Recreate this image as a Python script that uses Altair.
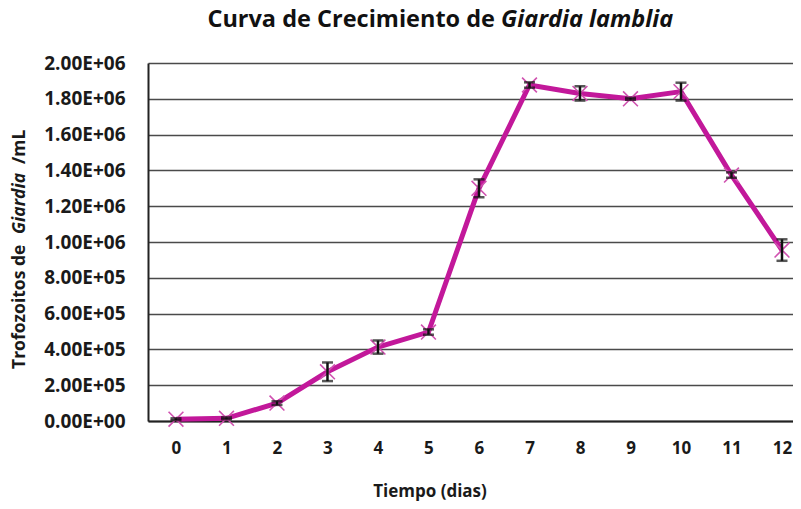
import altair as alt
import pandas as pd

days = [0, 1, 2, 3, 4, 5, 6, 7, 8, 9, 10, 11, 12]
trofozoitos = [10000, 15000, 100000, 275000, 413000, 497000, 1300000, 1877000, 1830000, 1800000, 1840000, 1374000, 955000]
errors = [5000, 5000, 10000, 52000, 37000, 15000, 50000, 15000, 40000, 5000, 50000, 15000, 60000]
y_ticks = [0, 200000, 400000, 600000, 800000, 1000000, 1200000, 1400000, 1600000, 1800000, 2000000]

df = pd.DataFrame({"day": days, "val": trofozoitos, "err": errors})
df["lo"] = df["val"] - df["err"]
df["hi"] = df["val"] + df["err"]

FONT = "Open Sans"
W, H = 645, 358

label_expr = ("datum.value == 0 ? '0.00E+00' : "
              "format(datum.value / pow(10, floor(log(datum.value) / LN10 + 1e-9)), '.2f') + 'E+' + "
              "(floor(log(datum.value) / LN10 + 1e-9) < 10 ? '0' : '') + floor(log(datum.value) / LN10 + 1e-9)")

x = alt.X("day:Q", scale=alt.Scale(domain=[-0.554, 12.218], nice=False, zero=False),
          axis=alt.Axis(values=days, title=None, grid=False, ticks=False, tickCount=20, format="d",
                        domainColor="#222222", domainWidth=2, labelFont=FONT, labelFontSize=17,
                        labelFontWeight="bold", labelColor="#1a1a1a", labelPadding=19,
                        labelFlush=False, labelOverlap=False))
y = alt.Y("val:Q", scale=alt.Scale(domain=[0, 2000000], nice=False),
          axis=alt.Axis(values=y_ticks, title=None, ticks=False, labelExpr=label_expr,
                        labelOverlap=False, tickCount=20,
                        domainColor="#222222", domainWidth=2, gridColor="#4a4a4a", gridWidth=1.6,
                        labelFont=FONT, labelFontSize=19, labelFontWeight="bold",
                        labelColor="#1a1a1a", labelPadding=23))

base = alt.Chart(df)
line = base.mark_line(color="#C2189A", strokeWidth=5).encode(x=x, y=y)
marks = base.mark_point(shape="M-1,-1L1,1M-1,1L1,-1", filled=False, color="#D052B0",
                        strokeWidth=1.6, size=220, opacity=1).encode(x="day:Q", y="val:Q")
stem = base.mark_rule(color="#111111", strokeWidth=2.5).encode(x="day:Q", y="lo:Q", y2="hi:Q")
cap_lo = base.mark_tick(color="#111111", orient="horizontal", size=11, thickness=2.5).encode(x="day:Q", y="lo:Q")
cap_hi = base.mark_tick(color="#111111", orient="horizontal", size=11, thickness=2.5).encode(x="day:Q", y="hi:Q")

tdf = pd.DataFrame({"t": [0]})
# Title with mixed styles
title1 = alt.Chart(tdf).mark_text(text="Curva de Crecimiento de", font=FONT, fontSize=23.5, fontWeight="bold",
                                  color="#111111", align="right", baseline="alphabetic").encode(
    x=alt.value(495 - 148), y=alt.value(27 - 63))
title2 = alt.Chart(tdf).mark_text(text="Giardia lamblia", font=FONT, fontSize=23.5, fontWeight="bold",
                                  fontStyle="italic", color="#111111", align="left", baseline="alphabetic").encode(
    x=alt.value(501 - 148), y=alt.value(27 - 63))

# X-axis title
xt = alt.Chart(tdf).mark_text(text="Tiempo (dias)", font=FONT, fontSize=17, fontWeight="bold",
                              color="#1a1a1a", align="center", baseline="middle").encode(
    x=alt.value(430 - 148), y=alt.value(492 - 63))

# Y-axis title with mixed styles (rotated)
yt1 = alt.Chart(tdf).mark_text(text="Trofozoitos de", font=FONT, fontSize=17.5, fontWeight="bold",
                               color="#1a1a1a", align="left", baseline="middle").encode(
    x=alt.value(20 - 148), y=alt.value(369 - 63), angle=alt.value(270))
yt2 = alt.Chart(tdf).mark_text(text="Giardia", font=FONT, fontSize=17.5, fontWeight="bold", fontStyle="italic",
                               color="#1a1a1a", align="left", baseline="middle").encode(
    x=alt.value(20 - 148), y=alt.value(234 - 63), angle=alt.value(270))
yt3 = alt.Chart(tdf).mark_text(text="/mL", font=FONT, fontSize=17.5, fontWeight="bold",
                               color="#1a1a1a", align="left", baseline="middle").encode(
    x=alt.value(20 - 148), y=alt.value(164 - 63), angle=alt.value(270))

chart = alt.layer(line, marks, stem, cap_lo, cap_hi, title1, title2, xt, yt1, yt2, yt3).properties(
    width=W, height=H, autosize=alt.AutoSizeParams(type="none"),
    padding={"left": 140, "top": 55, "right": 0, "bottom": 80}
).configure_view(stroke=None)

chart.save("out.html", embed_options={"renderer": "svg", "actions": False})
